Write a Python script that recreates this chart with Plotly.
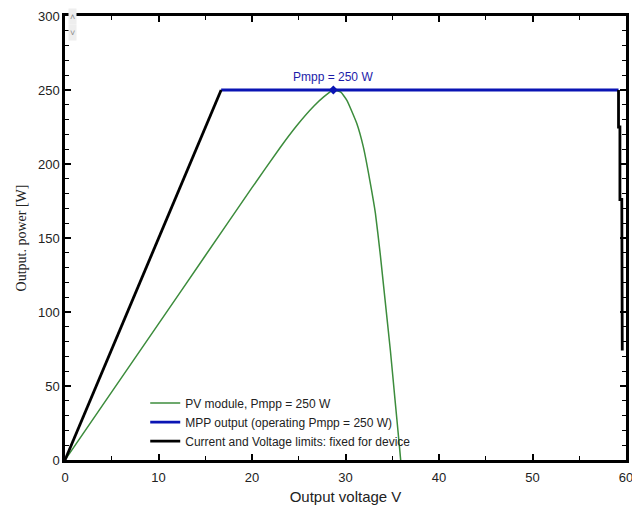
import plotly.graph_objects as go

# PV module P-V curve
pv_voltage = [0, 5, 10, 15, 20, 23, 24.8, 26.6, 27.7, 28.7, 29.5, 30.15, 31.2, 31.9, 32.6, 33.2, 33.7, 34.2, 34.8, 35.3, 35.8, 35.9]
pv_power = [0, 46, 92, 138, 184, 211, 226, 239, 245.5, 250, 248.5, 243, 227.5, 211.7, 189, 166.7, 140, 110, 74, 40.5, 7, 0]

# MPP output (operating)
mpp_voltage = [16.7, 59.2]
mpp_power = [250, 250]

# Current and voltage limits
lim_voltage = [0, 16.7, None, 59.2, 59.2, 59.35, 59.35, 59.55, 59.6]
lim_power = [0, 250, None, 250, 225, 225, 176, 176, 74]

# Maximum power point marker
mpp_point_v = [28.7]
mpp_point_p = [250]
mpp_label = "Pmpp = 250 W"

x_ticks = [0, 10, 20, 30, 40, 50, 60]
y_ticks = [0, 50, 100, 150, 200, 250, 300]

fig = go.Figure()
fig.add_trace(go.Scatter(x=pv_voltage, y=pv_power, mode="lines",
                         line=dict(color="#3c8c3c", width=1.5, shape="spline", smoothing=0.4),
                         name="PV module, Pmpp = 250 W"))
fig.add_trace(go.Scatter(x=mpp_voltage, y=mpp_power, mode="lines",
                         line=dict(color="#0a14b4", width=2.8),
                         name="MPP output (operating Pmpp = 250 W)"))
fig.add_trace(go.Scatter(x=lim_voltage, y=lim_power, mode="lines",
                         line=dict(color="black", width=2.8),
                         name="Current and Voltage limits: fixed for device"))
fig.add_trace(go.Scatter(x=mpp_point_v, y=mpp_point_p, mode="markers",
                         marker=dict(symbol="diamond", size=7, color="#0a14b4"),
                         showlegend=False))

fig.add_annotation(x=mpp_point_v[0], y=mpp_point_p[0], text=mpp_label,
                   showarrow=False, yshift=13,
                   font=dict(family="Liberation Sans, Arial", size=12, color="#1c1caa"))

# scroll widget arrows at top-left
fig.add_annotation(xref="paper", yref="paper", x=0.013, y=1.0, text="˄", showarrow=False,
                   xanchor="center", yanchor="top", yshift=8,
                   font=dict(size=9, color="#888"), bgcolor="#eeeeee")
fig.add_annotation(xref="paper", yref="paper", x=0.013, y=1.0, text="˅", showarrow=False,
                   xanchor="center", yanchor="top", yshift=-8,
                   font=dict(size=9, color="#888"), bgcolor="#eeeeee")

axis_common = dict(showgrid=False, zeroline=False, showline=True, linecolor="black",
                   linewidth=2.5, mirror="allticks", ticks="inside", ticklen=6,
                   tickwidth=1.5, tickcolor="black", automargin=False,
                   tickfont=dict(family="Liberation Sans, Arial", size=13, color="#222"))

fig.update_xaxes(range=[0, 60], tickvals=x_ticks, ticktext=[str(v) for v in x_ticks],
                 ticklabelstandoff=4,
                 minor=dict(dtick=5, ticks="inside", ticklen=4, tickwidth=1.2, tickcolor="black"),
                 title=dict(text="Output voltage V", standoff=8,
                            font=dict(family="Liberation Sans, Arial", size=15, color="#222")),
                 **axis_common)
fig.update_yaxes(range=[0, 300], tickvals=y_ticks, ticktext=[str(v) for v in y_ticks],
                 minor=dict(dtick=10, ticks="inside", ticklen=4, tickwidth=1.2, tickcolor="black"),
                 title=dict(text="Output. power [W]", standoff=9,
                            font=dict(family="Liberation Serif, Times New Roman", size=14, color="#222")),
                 **axis_common)

fig.update_layout(
    width=632, height=501,
    margin=dict(l=57, r=14, t=8, b=49),
    paper_bgcolor="white", plot_bgcolor="white",
    legend=dict(x=0.143, y=0.01, xanchor="left", yanchor="bottom",
                bgcolor="rgba(0,0,0,0)", tracegroupgap=0,
                font=dict(family="Liberation Sans, Arial", size=12, color="#222")),
)

fig.write_html("out.html")
